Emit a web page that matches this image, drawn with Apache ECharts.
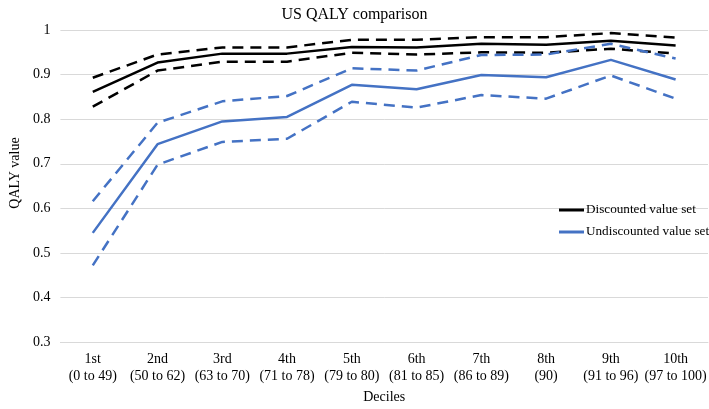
<!DOCTYPE html>
<html>
<head>
<meta charset="utf-8">
<script src="https://cdn.jsdelivr.net/npm/echarts@6/dist/echarts.min.js"></script>
<style>html,body{margin:0;padding:0;background:#fff}#c{width:709px;height:409px}</style>
</head>
<body>
<div id="c"></div>
<script>
var categories = ['1st\n(0 to 49)','2nd\n(50 to 62)','3rd\n(63 to 70)','4th\n(71 to 78)','5th\n(79 to 80)','6th\n(81 to 85)','7th\n(86 to 89)','8th\n(90)','9th\n(91 to 96)','10th\n(97 to 100)'];
var discounted      = [0.861,0.927,0.947,0.947,0.962,0.961,0.969,0.967,0.976,0.965];
var discountedUpper = [0.893,0.945,0.961,0.961,0.978,0.978,0.984,0.984,0.993,0.983];
var discountedLower = [0.828,0.909,0.929,0.929,0.949,0.945,0.950,0.949,0.958,0.947];
var undiscounted      = [0.545,0.744,0.795,0.805,0.877,0.867,0.899,0.894,0.933,0.889];
var undiscountedUpper = [0.616,0.792,0.840,0.852,0.914,0.909,0.944,0.945,0.969,0.936];
var undiscountedLower = [0.472,0.698,0.749,0.756,0.839,0.826,0.854,0.846,0.898,0.846];
var yTicks = [0.3,0.4,0.5,0.6,0.7,0.8,0.9,1];

var font = '"Liberation Serif", "Times New Roman", serif';
var BLUE = '#4472C4', BLACK = '#000000';
function mk(name, data, color, dashed) {
  return {
    name: name, type: 'line', data: data, symbol: 'none', showSymbol: false,
    lineStyle: {color: color, width: 2.5, type: dashed ? [11, 7] : 'solid', cap: 'butt'},
    itemStyle: {color: color}, emphasis: {disabled: true}, silent: true, z: dashed ? 2 : 3
  };
}
var chart = echarts.init(document.getElementById('c'), null, {renderer: 'canvas'});
chart.setOption({
  animation: false,
  backgroundColor: '#fff',
  textStyle: {fontFamily: font},
  title: {
    text: 'US QALY comparison', left: 'center', top: 2,
    textStyle: {fontFamily: font, fontSize: 16, fontWeight: 'normal', color: '#000'}
  },
  legend: {
    data: ['Discounted value set', 'Undiscounted value set'],
    orient: 'vertical', left: 554, top: 198,
    icon: 'rect', itemWidth: 25, itemHeight: 3, itemGap: 8,
    textStyle: {fontFamily: font, fontSize: 13.2, color: '#000', padding: [0,0,0,-3], lineHeight: 14}
  },
  grid: {left: 45, right: 1, top: 30, bottom: 60, containLabel: false},
  xAxis: {
    type: 'category', data: categories, boundaryGap: true,
    name: 'Deciles', nameLocation: 'middle', nameGap: 42,
    nameTextStyle: {fontFamily: font, fontSize: 14, color: '#000'},
    axisLine: {lineStyle: {color: '#d9d9d9', width: 1}},
    axisTick: {show: false},
    axisLabel: {fontFamily: font, fontSize: 14, color: '#000', interval: 0, margin: 9, lineHeight: 17}
  },
  yAxis: {
    type: 'value', min: yTicks[0], max: yTicks[yTicks.length-1], interval: 0.1,
    name: 'QALY value', nameLocation: 'middle', nameGap: 33,
    nameTextStyle: {fontFamily: font, fontSize: 14, color: '#000', padding: [0,0,0,26]},
    axisLine: {show: false}, axisTick: {show: false},
    axisLabel: {fontFamily: font, fontSize: 14, color: '#000', margin: 10,
      formatter: function (v) { return String(Math.round(v*10)/10); }},
    splitLine: {lineStyle: {color: '#d9d9d9', width: 1}}
  },
  series: [
    mk('Discounted upper', discountedUpper, BLACK, true),
    mk('Discounted lower', discountedLower, BLACK, true),
    mk('Discounted value set', discounted, BLACK, false),
    mk('Undiscounted upper', undiscountedUpper, BLUE, true),
    mk('Undiscounted lower', undiscountedLower, BLUE, true),
    mk('Undiscounted value set', undiscounted, BLUE, false)
  ]
});
</script>
</body>
</html>
